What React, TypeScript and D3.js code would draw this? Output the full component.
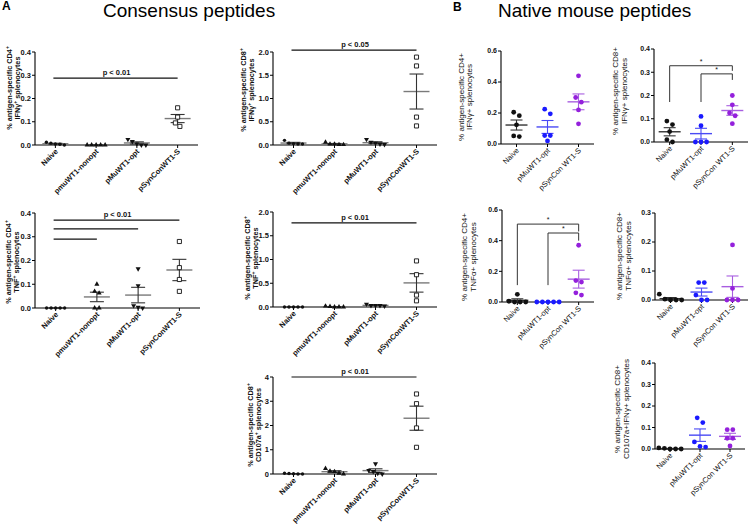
import React from 'react';
import * as d3 from 'd3';

const W = 750;
const H = 524;
const FONT = "'Liberation Sans', Arial, Helvetica, sans-serif";

// ---------- categories ----------
const catA = ['Naive', 'pmuWT1-nonopt', 'pMuWT1-opt', 'pSynConWT1-S'];
const catB = ['Naive', 'pMuWT1-opt', 'pSynCon WT1-S'];

// ---------- A: consensus peptides ----------
const a1Naive = [0.012, 0.008, 0.003, 0.0, 0.004];
const a1Nonopt = [0, 0, 0, 0, 0];
const a1Opt = [0.024, 0.015, 0.005, 0.0, 0.0];
const a1Syn = [0.16, 0.12, 0.08, 0.095];

const a2Naive = [0.1, 0.04, 0.02, 0.02, 0.03];
const a2Nonopt = [0.06, 0.02, 0.01, 0.01, 0.02];
const a2Opt = [0.12, 0.06, 0.04, 0.01, 0.02];
const a2Syn = [1.89, 1.7, 0.6, 0.41];

const a3Naive = [0, 0, 0, 0, 0];
const a3Nonopt = [0.1, 0.07, 0.063, 0, 0];
const a3Opt = [0.165, 0.094, 0.01, 0.003, 0];
const a3Syn = [0.28, 0.17, 0.12, 0.07];

const a4Naive = [0, 0, 0, 0, 0];
const a4Nonopt = [0.02, 0, 0, 0, 0.01];
const a4Opt = [0.06, 0.03, 0.03, 0.02, 0.03];
const a4Syn = [0.97, 0.68, 0.25, 0.13];

const a5Naive = [0.03, 0.02, 0, 0, 0.01];
const a5Nonopt = [0.23, 0.12, 0.1, 0.03, 0];
const a5Opt = [0.42, 0.15, 0.1, 0.03, 0];
const a5Syn = [3.3, 2.9, 1.9, 1.1];

// ---------- B: native mouse peptides ----------
const b1Naive = [0.205, 0.183, 0.124, 0.048, 0.052];
const b1Opt = [0.225, 0.195, 0.055, 0.055, 0.02];
const b1Syn = [0.44, 0.3, 0.27, 0.22, 0.13];

const b2Naive = [0.09, 0.075, 0.045, 0.01, 0.0];
const b2Opt = [0.11, 0.07, 0, 0, 0];
const b2Syn = [0.2, 0.16, 0.125, 0.113, 0.079];

const b3Naive = [0.05, 0.005, 0, 0, 0];
const b3Opt = [0, 0, 0, 0, 0];
const b3Syn = [0.37, 0.14, 0.13, 0.06, 0.045];

const b4Naive = [0.02, 0, 0, 0, 0.003];
const b4Opt = [0.06, 0.06, 0, 0.017, 0];
const b4Syn = [0.19, 0.04, 0, 0, 0];

const b5Naive = [0.005, 0, 0, 0, 0.003];
const b5Opt = [0.145, 0.123, 0.033, 0.009, 0.012];
const b5Syn = [0.09, 0.09, 0.05, 0.05, 0.014];

// ---------- tick labels ----------
const ticksA04 = [0, 0.1, 0.2, 0.3, 0.4];
const ticksA2 = [0, 0.5, 1.0, 1.5, 2.0];
const ticksA4 = [0, 1, 2, 3, 4];
const ticksB06 = [0, 0.2, 0.4, 0.6];
const ticksB04 = [0, 0.1, 0.2, 0.3, 0.4];
const ticksB03 = [0, 0.1, 0.2, 0.3];

type Sig = { from: string; to: string; y: number; label?: string };
type Bracket = { from: string; to: string; top: number; fromEnd: number; toEnd: number };

type Panel = {
  kind: 'A' | 'B';
  x0: number; x1: number; yTop: number; yBottom: number;
  yMax: number; ticks: number[]; fmt: (v: number) => string;
  groups: number[][];
  ylab: string[]; ylabX: number[]; ylabY: number;
  sigs?: Sig[];
  brackets?: Bracket[];
};

const f1 = d3.format('.1f');
const f0 = d3.format('d');

const panels: Panel[] = [
  { kind: 'A', x0: 35, x1: 198, yTop: 52, yBottom: 145, yMax: 0.4, ticks: ticksA04, fmt: f1,
    groups: [a1Naive, a1Nonopt, a1Opt, a1Syn],
    ylab: ['% antigen-specific CD4{+}', 'IFNγ{+} splenocytes'], ylabX: [12, 20], ylabY: 88,
    sigs: [{ from: 'Naive', to: 'pSynConWT1-S', y: 0.288, label: 'p < 0.01' }] },
  { kind: 'A', x0: 273, x1: 437, yTop: 52, yBottom: 145, yMax: 2.0, ticks: ticksA2, fmt: f1,
    groups: [a2Naive, a2Nonopt, a2Opt, a2Syn],
    ylab: ['% antigen-specific CD8{+}', 'IFNγ{+} splenocytes'], ylabX: [246, 254], ylabY: 90,
    sigs: [{ from: 'Naive', to: 'pSynConWT1-S', y: 2.04, label: 'p < 0.05' }] },
  { kind: 'A', x0: 35, x1: 200, yTop: 213, yBottom: 308, yMax: 0.4, ticks: ticksA04, fmt: f1,
    groups: [a3Naive, a3Nonopt, a3Opt, a3Syn],
    ylab: ['% antigen-specific CD4{+}', 'TNF{+} splenocytes'], ylabX: [11, 19], ylabY: 262,
    sigs: [
      { from: 'Naive', to: 'pSynConWT1-S', y: 0.37, label: 'p < 0.01' },
      { from: 'Naive', to: 'pMuWT1-opt', y: 0.333 },
      { from: 'Naive', to: 'pmuWT1-nonopt', y: 0.29 },
    ] },
  { kind: 'A', x0: 273, x1: 437, yTop: 212, yBottom: 307, yMax: 2.0, ticks: ticksA2, fmt: f1,
    groups: [a4Naive, a4Nonopt, a4Opt, a4Syn],
    ylab: ['% antigen-specific CD8{+}', 'TNF{+} splenocytes'], ylabX: [250, 258], ylabY: 258,
    sigs: [{ from: 'Naive', to: 'pSynConWT1-S', y: 1.77, label: 'p < 0.01' }] },
  { kind: 'A', x0: 273, x1: 437, yTop: 377, yBottom: 474, yMax: 4, ticks: ticksA4, fmt: f0,
    groups: [a5Naive, a5Nonopt, a5Opt, a5Syn],
    ylab: ['% antigen-specific CD8{+}', 'CD107a{+} splenocytes'], ylabX: [253, 261], ylabY: 425,
    sigs: [{ from: 'Naive', to: 'pSynConWT1-S', y: 4.0, label: 'p < 0.01' }] },
  { kind: 'B', x0: 501, x1: 594, yTop: 51, yBottom: 144, yMax: 0.6, ticks: ticksB06, fmt: f1,
    groups: [b1Naive, b1Opt, b1Syn],
    ylab: ['% antigen-specific CD4+', 'IFNγ+ splenocytes'], ylabX: [464, 472], ylabY: 97 },
  { kind: 'B', x0: 654, x1: 748, yTop: 49, yBottom: 142, yMax: 0.4, ticks: ticksB04, fmt: f1,
    groups: [b2Naive, b2Opt, b2Syn],
    ylab: ['% antigen-specific CD8+', 'IFNγ+ splenocytes'], ylabX: [618, 627], ylabY: 91,
    brackets: [
      { from: 'Naive', to: 'pSynCon WT1-S', top: 0.328, fromEnd: 0.172, toEnd: 0.306 },
      { from: 'pMuWT1-opt', to: 'pSynCon WT1-S', top: 0.293, fromEnd: 0.172, toEnd: 0.267 },
    ] },
  { kind: 'B', x0: 502, x1: 594, yTop: 210, yBottom: 302, yMax: 0.6, ticks: ticksB06, fmt: f1,
    groups: [b3Naive, b3Opt, b3Syn],
    ylab: ['% antigen-specific CD4+', 'TNFα+ splenocytes'], ylabX: [467, 476], ylabY: 257,
    brackets: [
      { from: 'Naive', to: 'pSynCon WT1-S', top: 0.508, fromEnd: 0.11, toEnd: 0.46 },
      { from: 'pMuWT1-opt', to: 'pSynCon WT1-S', top: 0.45, fromEnd: 0.11, toEnd: 0.4 },
    ] },
  { kind: 'B', x0: 655, x1: 748, yTop: 213, yBottom: 300, yMax: 0.3, ticks: ticksB03, fmt: f1,
    groups: [b4Naive, b4Opt, b4Syn],
    ylab: ['% antigen-specific CD8+', 'TNFα+ splenocytes'], ylabX: [622, 631], ylabY: 256 },
  { kind: 'B', x0: 655, x1: 745, yTop: 363, yBottom: 449, yMax: 0.4, ticks: ticksB04, fmt: f1,
    groups: [b5Naive, b5Opt, b5Syn],
    ylab: ['% antigen-specific CD8+', 'CD107a+IFNγ+ splenocytes'], ylabX: [620, 629], ylabY: 409 },
];

const bDot = ['#111111', '#1a1aff', '#9420dc'];
const bLine = ['#333333', '#4a4af5', '#a85ee0'];

function beeswarm(vals: number[], y: (v: number) => number, thr: number, spacing: number) {
  const idx = vals.map((v, i) => ({ v, i, py: y(v) })).sort((a, b) => a.py - b.py);
  const clusters: { v: number; i: number; py: number }[][] = [];
  for (const p of idx) {
    const last = clusters[clusters.length - 1];
    if (last && p.py - last[last.length - 1].py < thr) last.push(p);
    else clusters.push([p]);
  }
  const out = vals.map(() => 0);
  for (const c of clusters) c.forEach((p, k) => { out[p.i] = (k - (c.length - 1) / 2) * spacing; });
  return out;
}

function RichText({ s, sup }: { s: string; sup: number }) {
  const parts = s.split(/(\{[^}]*\})/).filter((p) => p.length);
  return (
    <>
      {parts.map((p, i) =>
        p.startsWith('{') ? (
          <tspan key={i} dy={-3} fontSize={sup}>{p.slice(1, -1)}</tspan>
        ) : (
          <tspan key={i} dy={i > 0 && parts[i - 1].startsWith('{') ? 3 : 0}>{p}</tspan>
        )
      )}
    </>
  );
}

const triUp = d3.symbol(d3.symbolTriangle, 11)() as string;
const square = d3.symbol(d3.symbolSquare, 17)() as string;

function PanelView({ p }: { p: Panel }) {
  const cats = p.kind === 'A' ? catA : catB;
  const x = d3.scaleBand().domain(cats).range([p.x0, p.x1]);
  const cx = (c: string) => (x(c) as number) + x.bandwidth() / 2;
  const y = d3.scaleLinear().domain([0, p.yMax]).range([p.yBottom, p.yTop]);
  const isA = p.kind === 'A';
  const tickFont = isA ? 7.5 : 7;
  const meanHalf = isA ? 13 : 11;
  const capHalf = isA ? 7 : 6;

  return (
    <g fontFamily={FONT}>
      {p.ylab.map((l, i) => (
        <text key={i} transform={`translate(${p.ylabX[i]},${p.ylabY}) rotate(-90)`} textAnchor="middle"
          fontSize={isA ? 7.3 : 8} fontWeight={isA ? 'bold' : 'normal'} fill="#111">
          {isA ? <RichText s={l} sup={5} /> : l}
        </text>
      ))}
      <line x1={p.x0} x2={p.x0} y1={p.yTop} y2={p.yBottom} stroke="#000" strokeWidth={1.1} />
      <line x1={p.x0} x2={p.x1} y1={p.yBottom} y2={p.yBottom} stroke="#000" strokeWidth={1.1} />
      {p.ticks.map((t) => (
        <g key={t}>
          <line x1={p.x0 - 3} x2={p.x0} y1={y(t)} y2={y(t)} stroke="#000" strokeWidth={1} />
          <text x={p.x0 - 4} y={y(t)} dy="0.35em" textAnchor="end" fontSize={tickFont} fontWeight="bold" fill="#111">
            {p.fmt(t)}
          </text>
        </g>
      ))}
      {cats.map((c) => (
        <g key={c}>
          <line x1={cx(c)} x2={cx(c)} y1={p.yBottom} y2={p.yBottom + 3} stroke="#000" strokeWidth={1} />
          <text transform={`translate(${cx(c) + 3},${p.yBottom + 7}) rotate(-45)`} textAnchor="end"
            fontSize={7.5} fontWeight={isA ? 'bold' : 'normal'} fill="#111">{c}</text>
        </g>
      ))}
      {p.sigs?.map((s, i) => (
        <g key={i}>
          <line x1={cx(s.from) - 2} x2={cx(s.to)} y1={y(s.y)} y2={y(s.y)} stroke="#111" strokeWidth={1.2} />
          {s.label && (
            <text x={(cx(s.from) + cx(s.to)) / 2} y={y(s.y) - 3} textAnchor="middle" fontSize={7.5} fontWeight="bold" fill="#111">
              {s.label}
            </text>
          )}
        </g>
      ))}
      {p.brackets?.map((b, i) => (
        <g key={i}>
          <path d={`M${cx(b.from)},${y(b.fromEnd)}V${y(b.top)}H${cx(b.to)}V${y(b.toEnd)}`} fill="none" stroke="#333" strokeWidth={1} />
          <text x={(cx(b.from) + cx(b.to)) / 2} y={y(b.top) - 2} textAnchor="middle" fontSize={7} fill="#111">*</text>
        </g>
      ))}
      {p.groups.map((vals, gi) => {
        const c = cats[gi];
        const m = d3.mean(vals) as number;
        const sem = (d3.deviation(vals) as number) / Math.sqrt(vals.length);
        const offs = beeswarm(vals, y, isA ? 4 : 5, isA ? 4.5 : 5.6);
        const lc = isA ? '#333' : bLine[gi];
        const mc = isA ? '#7a7a7a' : bLine[gi];
        const X = cx(c);
        return (
          <g key={c}>
            <line x1={X - meanHalf} x2={X + meanHalf} y1={y(m)} y2={y(m)} stroke={mc} strokeWidth={1.4} />
            <line x1={X} x2={X} y1={y(m + sem)} y2={y(Math.max(0, m - sem))} stroke={lc} strokeWidth={1.1} />
            <line x1={X - capHalf} x2={X + capHalf} y1={y(m + sem)} y2={y(m + sem)} stroke={lc} strokeWidth={1.1} />
            <line x1={X - capHalf} x2={X + capHalf} y1={y(Math.max(0, m - sem))} y2={y(Math.max(0, m - sem))} stroke={lc} strokeWidth={1.1} />
            {vals.map((v, i) => {
              const px = X + offs[i];
              const py = y(v);
              if (!isA) return <circle key={i} cx={px} cy={py} r={2.4} fill={bDot[gi]} />;
              if (gi === 0) return <circle key={i} cx={px} cy={py} r={1.7} fill="#111" />;
              if (gi === 1) return <path key={i} d={triUp} transform={`translate(${px},${py})`} fill="#111" />;
              if (gi === 2) return <path key={i} d={triUp} transform={`translate(${px},${py}) rotate(180)`} fill="#111" />;
              return <path key={i} d={square} transform={`translate(${px},${py})`} fill="#fff" stroke="#111" strokeWidth={0.9} />;
            })}
          </g>
        );
      })}
    </g>
  );
}

export default function App() {
  return (
    <div style={{ position: 'absolute', left: 0, top: 0 }}>
      <svg width={W} height={H} viewBox={`0 0 ${W} ${H}`} style={{ display: 'block', background: '#fff' }}>
        <rect width={W} height={H} fill="#fff" />
        <text x={2} y={10} fontFamily={FONT} fontSize={12} fontWeight="bold">A</text>
        <text x={103} y={17} fontFamily={FONT} fontSize={19}>Consensus peptides</text>
        <text x={453} y={11} fontFamily={FONT} fontSize={12} fontWeight="bold">B</text>
        <text x={498} y={17} fontFamily={FONT} fontSize={19}>Native mouse peptides</text>
        {panels.map((p, i) => <PanelView key={i} p={p} />)}
      </svg>
    </div>
  );
}
